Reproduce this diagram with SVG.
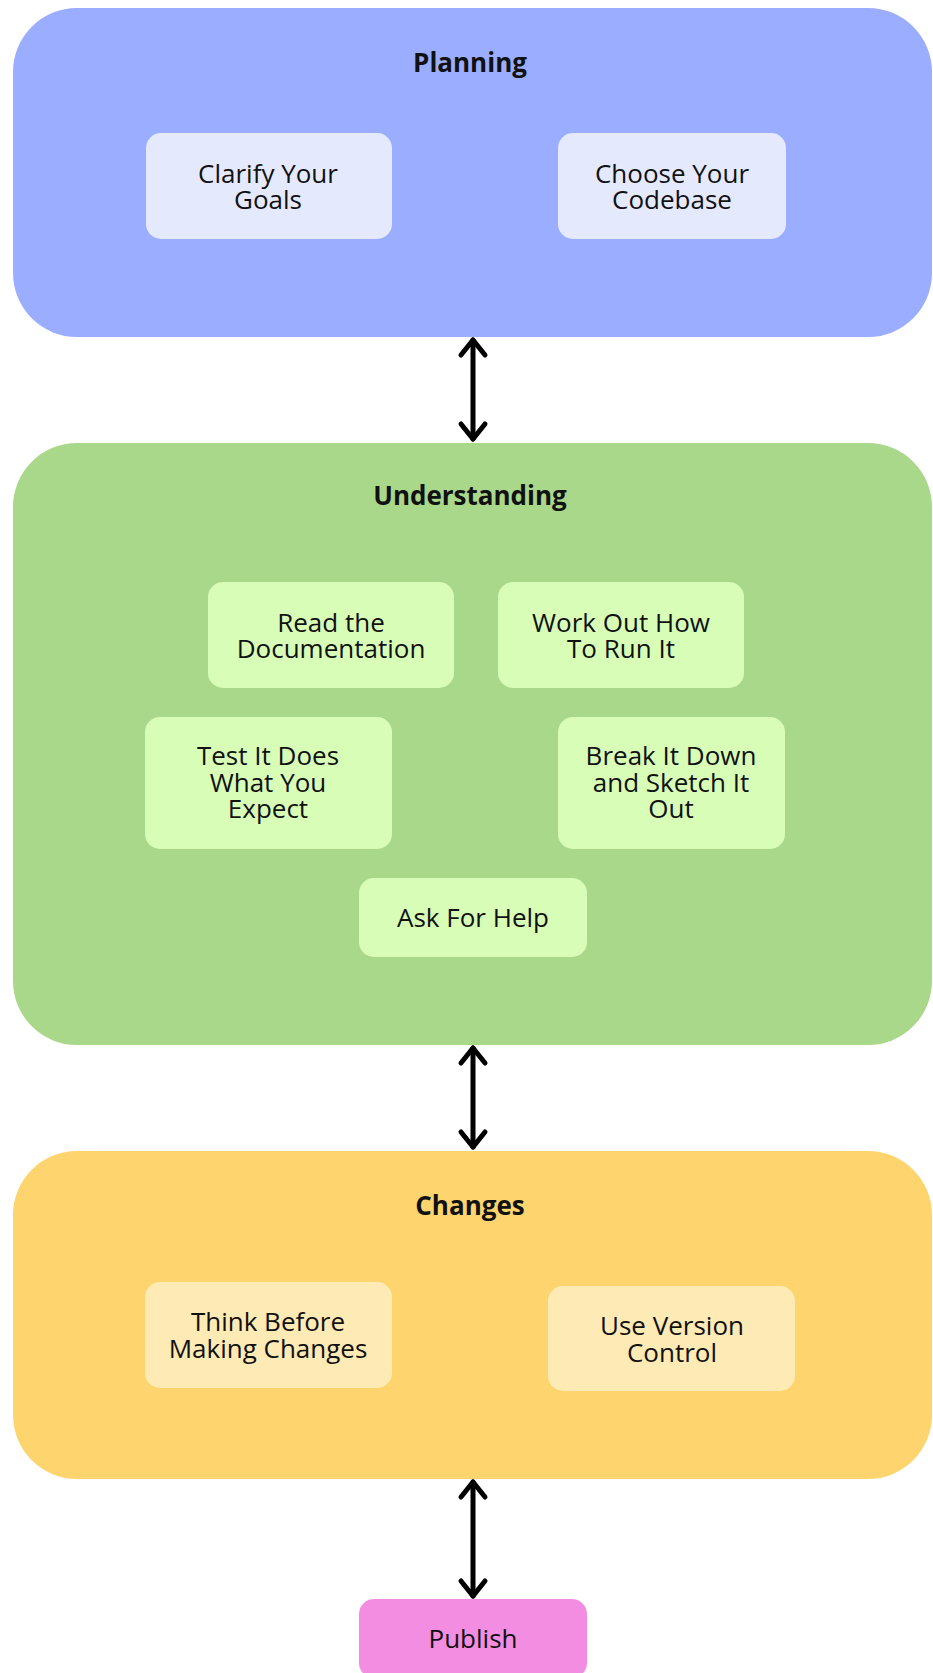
<svg xmlns="http://www.w3.org/2000/svg" width="933" height="1673" viewBox="0 0 933 1673">
<style>
text{font-family:"Open Sans","Noto Sans","Liberation Sans",sans-serif;fill:#111;text-anchor:middle}
.title{font-size:26px;font-weight:bold}
.lbl{font-size:26px}
.conn{stroke:#000;stroke-width:5;fill:none;stroke-linecap:round;marker-start:url(#chev);marker-end:url(#chev)}
</style>
<defs>
<marker id="chev" markerUnits="userSpaceOnUse" viewBox="-20 -16 24 32" refX="0" refY="0" markerWidth="24" markerHeight="32" orient="auto-start-reverse">
<path d="M -15 -12 L 0 0 L -15 12" fill="none" stroke="#000" stroke-width="5" stroke-linecap="round" stroke-linejoin="round"/>
</marker>
</defs>
<rect width="933" height="1673" fill="#ffffff"/>
<g id="planning">
<rect x="13" y="8" width="919" height="329" rx="64" fill="#9AADFF"/>
<text class="title" x="470" y="72">Planning</text>
</g>
<g id="clarify">
<rect x="146" y="133" width="246" height="106" rx="15" fill="#E5E9FE"/>
<text class="lbl" x="268" y="183"><tspan x="268">Clarify Your</tspan><tspan x="268" dy="26">Goals</tspan></text>
</g>
<g id="codebase">
<rect x="558" y="133" width="228" height="106" rx="15" fill="#E5E9FE"/>
<text class="lbl" x="672" y="183"><tspan x="672">Choose Your</tspan><tspan x="672" dy="26">Codebase</tspan></text>
</g>
<g id="understanding">
<rect x="13" y="443" width="919" height="602" rx="64" fill="#A9D88A"/>
<text class="title" x="470" y="505">Understanding</text>
</g>
<g id="docs">
<rect x="208" y="582" width="246" height="106" rx="15" fill="#D7FDB7"/>
<text class="lbl" x="331" y="632"><tspan x="331">Read the</tspan><tspan x="331" dy="26">Documentation</tspan></text>
</g>
<g id="run">
<rect x="498" y="582" width="246" height="106" rx="15" fill="#D7FDB7"/>
<text class="lbl" x="621" y="632"><tspan x="621">Work Out How</tspan><tspan x="621" dy="26">To Run It</tspan></text>
</g>
<g id="test">
<rect x="145" y="717" width="247" height="132" rx="15" fill="#D7FDB7"/>
<text class="lbl" x="268" y="765"><tspan x="268">Test It Does</tspan><tspan x="268" dy="26.5">What You</tspan><tspan x="268" dy="26.5">Expect</tspan></text>
</g>
<g id="breakdown">
<rect x="558" y="717" width="227" height="132" rx="15" fill="#D7FDB7"/>
<text class="lbl" x="671" y="765"><tspan x="671">Break It Down</tspan><tspan x="671" dy="26.5">and Sketch It</tspan><tspan x="671" dy="26.5">Out</tspan></text>
</g>
<g id="help">
<rect x="359" y="878" width="228" height="79" rx="15" fill="#D7FDB7"/>
<text class="lbl" x="473" y="927">Ask For Help</text>
</g>
<g id="changes">
<rect x="13" y="1151" width="919" height="328" rx="64" fill="#FED46E"/>
<text class="title" x="470" y="1215">Changes</text>
</g>
<g id="think">
<rect x="145" y="1282" width="247" height="106" rx="15" fill="#FEEAB4"/>
<text class="lbl" x="268" y="1331"><tspan x="268">Think Before</tspan><tspan x="268" dy="27">Making Changes</tspan></text>
</g>
<g id="vcs">
<rect x="548" y="1286" width="247" height="105" rx="15" fill="#FEEAB4"/>
<text class="lbl" x="672" y="1335"><tspan x="672">Use Version</tspan><tspan x="672" dy="27">Control</tspan></text>
</g>
<g id="publish">
<rect x="359" y="1599" width="228" height="79" rx="15" fill="#F28DE1"/>
<text class="lbl" x="473" y="1648">Publish</text>
</g>
<g id="connectors">
<path class="conn" d="M 473 340 L 473 439"/>
<path class="conn" d="M 473 1048 L 473 1147"/>
<path class="conn" d="M 473 1482 L 473 1596"/>
</g>
</svg>
